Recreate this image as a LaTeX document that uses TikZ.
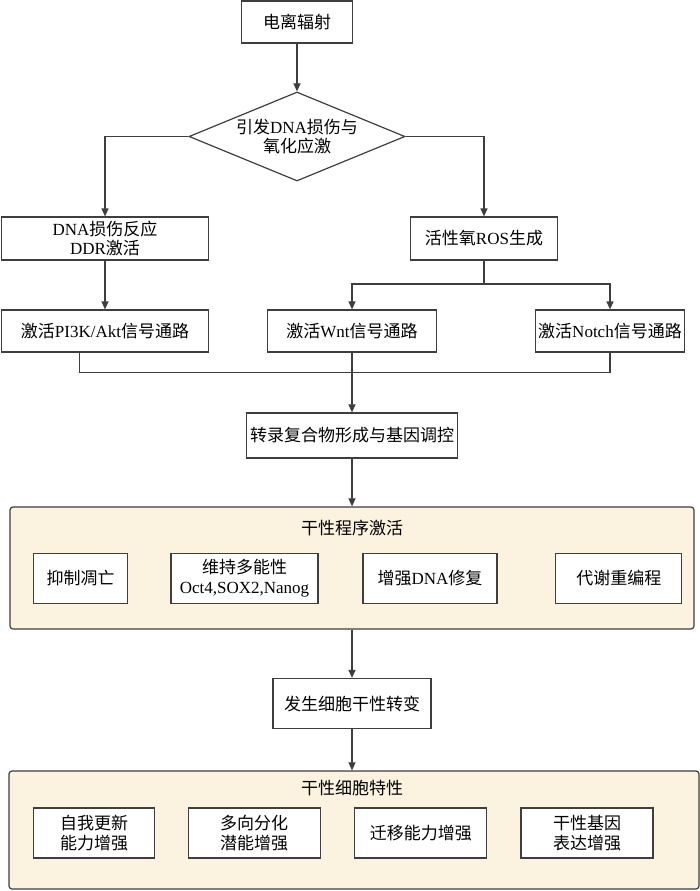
\documentclass[tikz,border=0pt]{standalone}
\usepackage{fontspec}
\setmainfont{Noto Sans CJK SC}
\newfontfamily\en{Liberation Serif}
\usetikzlibrary{shapes.geometric}
\usetikzlibrary{arrows.meta}
\definecolor{framegray}{RGB}{62,62,62}
\definecolor{panelcream}{RGB}{251,243,224}

\begin{document}
\begin{tikzpicture}[x=1pt, y=-1pt, >={Triangle[length=8pt,width=7pt]},
    flowbox/.style={rectangle, draw=framegray, line width=1.2pt, fill=white, align=center, inner sep=0pt, font=\fontsize{17}{19.5}\selectfont},
    decision/.style={diamond, aspect=2.43, draw=framegray, line width=1.2pt, fill=white, align=center, inner sep=0pt, font=\fontsize{17}{19.5}\selectfont},
    stagepanel/.style={rectangle, rounded corners=3pt, draw=framegray, line width=1.2pt, fill=panelcream, inner sep=0pt},
    paneltitle/.style={font=\fontsize{17}{19.5}\selectfont, inner sep=0pt},
    flow/.style={draw=framegray, line width=1.2pt}]

      \fill[white] (0,0) rectangle (700,891);
      \useasboundingbox (0,0) rectangle (700,891);

      % trigger and branching
      \node[flowbox, minimum width=111pt, minimum height=42pt] (src) at (297,22) {电离辐射};
      \node[decision, minimum width=216pt, minimum height=89pt] (dia) at (297,136.5) {引发{\en DNA}损伤与\\氧化应激};

      \node[flowbox, minimum width=207pt, minimum height=43pt] (ddr) at (105,238.5) {{\en DNA}损伤反应\\{\en DDR}激活};
      \node[flowbox, minimum width=147pt, minimum height=43pt] (ros) at (484,238.5) {活性氧{\en ROS}生成};

      % signalling pathways
      \node[flowbox, minimum width=207pt, minimum height=42pt] (pi3k) at (105,331) {激活{\en PI3K/Akt}信号通路};
      \node[flowbox, minimum width=169pt, minimum height=42pt] (wnt) at (352,331) {激活{\en Wnt}信号通路};
      \node[flowbox, minimum width=149pt, minimum height=42pt] (notch) at (610,331) {激活{\en Notch}信号通路};

      \coordinate (split) at (484,284);
      \coordinate (join) at (79.5,372.7);

      \node[flowbox, minimum width=211pt, minimum height=45pt] (trans) at (352,435.5) {转录复合物形成与基因调控};

      % stemness program
      \node[stagepanel, minimum width=684pt, minimum height=122pt] (prog) at (352,568) {};
      \node[paneltitle] (progtitle) at (352,528) {干性程序激活};
      \node[flowbox, minimum width=94pt, minimum height=50pt] (apop) at (80.6,578.3) {抑制凋亡};
      \node[flowbox, minimum width=147pt, minimum height=50pt] (pluri) at (244.5,578.3) {维持多能性\\{\en Oct4,SOX2,Nanog}};
      \node[flowbox, minimum width=134pt, minimum height=50pt] (repair) at (430,578.3) {增强{\en DNA}修复};
      \node[flowbox, minimum width=126pt, minimum height=50pt] (meta) at (618.8,578.3) {代谢重编程};

      \node[flowbox, minimum width=158pt, minimum height=50pt] (shift) at (352,703.5) {发生细胞干性转变};

      % stem cell features
      \node[stagepanel, minimum width=690pt, minimum height=118pt] (feat) at (354,830) {};
      \node[paneltitle] (feattitle) at (352,788) {干性细胞特性};
      \node[flowbox, minimum width=121pt, minimum height=50pt] (renew) at (94,833) {自我更新\\能力增强};
      \node[flowbox, minimum width=132pt, minimum height=50pt] (diff) at (254.2,833) {多向分化\\潜能增强};
      \node[flowbox, minimum width=132pt, minimum height=50pt] (migr) at (420.8,833) {迁移能力增强};
      \node[flowbox, minimum width=132pt, minimum height=50pt] (gene) at (587,833) {干性基因\\表达增强};

      \draw[flow, ->] (src) -- (dia);
      \draw[flow, ->] (dia.west) -| (ddr.north);
      \draw[flow, ->] (dia.east) -| (ros.north);
      \draw[flow, ->] (ddr) -- (pi3k);
      \draw[flow] (ros.south) -- (split);
      \draw[flow, ->] (split) -| (wnt.north);
      \draw[flow, ->] (split) -| (notch.north);
      \draw[flow] (pi3k.south -| join) -- (join) -| (notch.south);
      \draw[flow, ->] (wnt) -- (trans);
      \draw[flow, ->] (trans) -- (prog);
      \draw[flow, ->] (prog.south -| shift) -- (shift);
      \draw[flow, ->] (shift.south) -- (shift.south |- feat.north);

    \end{tikzpicture}
\end{document}
